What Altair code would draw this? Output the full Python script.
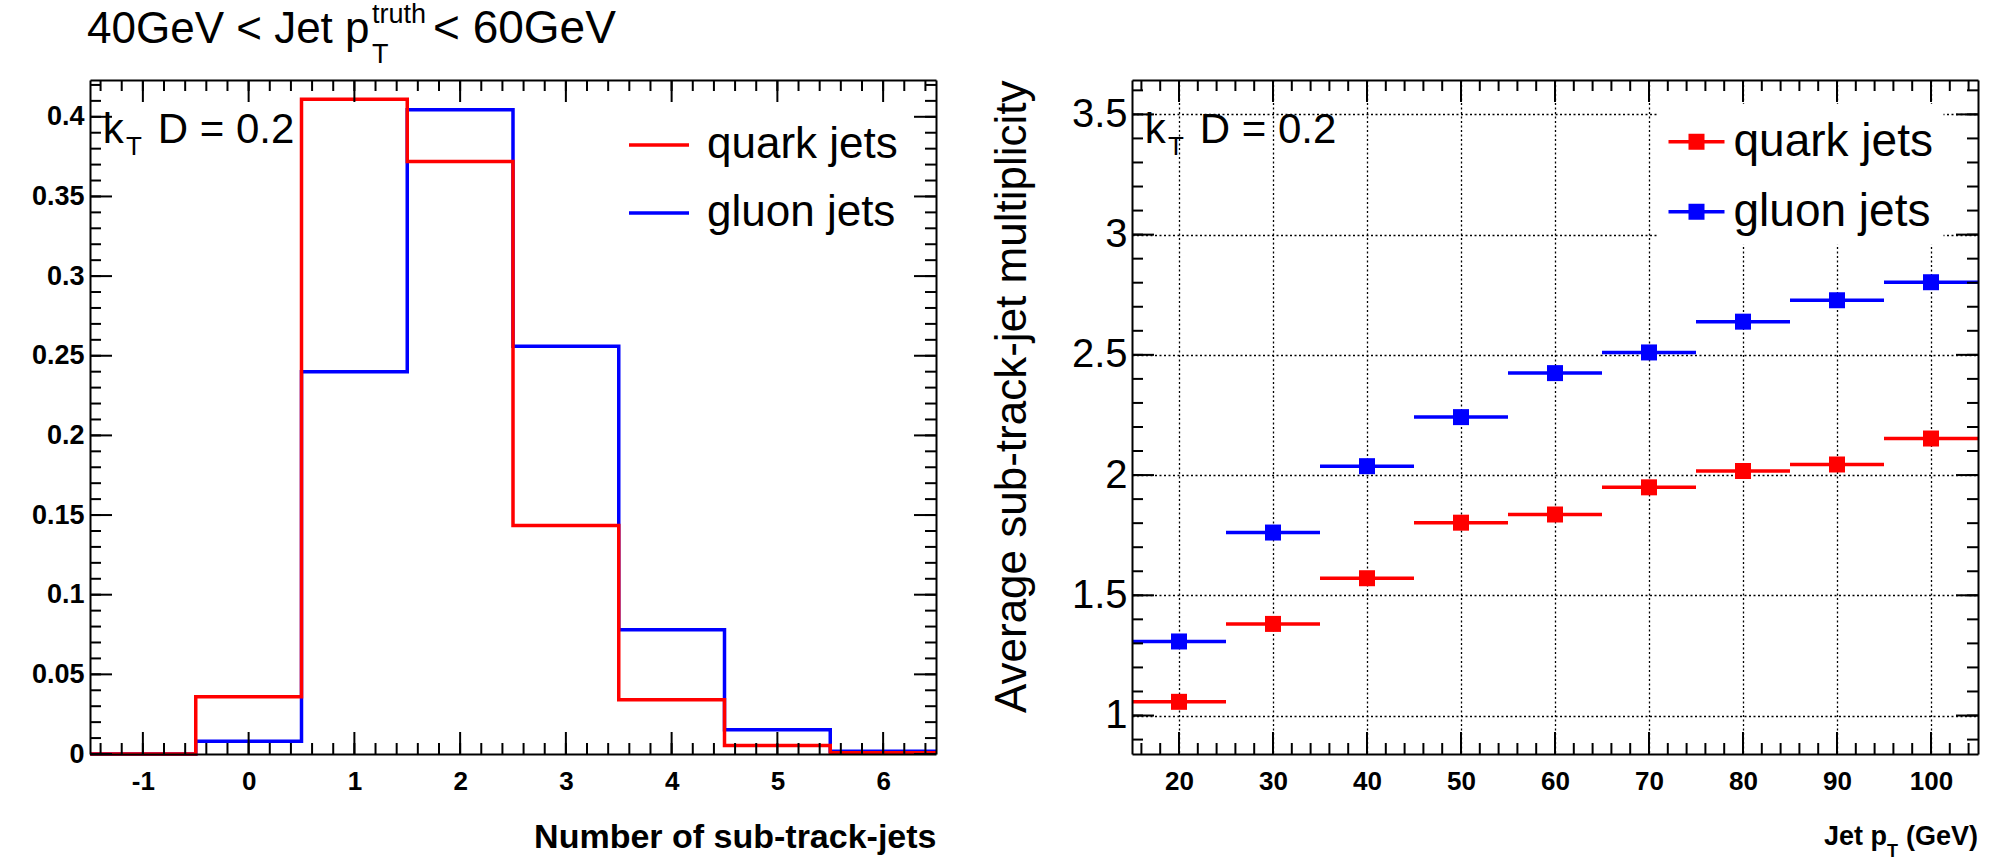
import altair as alt
import pandas as pd

# ----------------------------------------------------------------------
# Data
# ----------------------------------------------------------------------
# Left: normalised number of sub-track-jets (kT, D = 0.2), 40 < pT(truth) < 60 GeV
n_subjets = [-1, 0, 1, 2, 3, 4, 5, 6]
frac_quark = [0.0, 0.036, 0.411, 0.372, 0.1435, 0.034, 0.0054, 0.0008]
frac_gluon = [0.0, 0.008, 0.240, 0.4045, 0.256, 0.078, 0.0152, 0.0018]

# Right: average sub-track-jet multiplicity in 10 GeV bins of jet pT
pt_center = [20, 30, 40, 50, 60, 70, 80, 90, 100]
pt_half_width = [5, 5, 5, 5, 5, 5, 5, 5, 5]
mult_quark = [1.057, 1.381, 1.571, 1.802, 1.836, 1.949, 2.017, 2.044, 2.152]
mult_gluon = [1.308, 1.761, 2.037, 2.241, 2.424, 2.510, 2.638, 2.727, 2.802]

series_names = ["quark jets", "gluon jets"]
series_colors = ["#ff0000", "#0000ff"]

# Axis ranges and tick positions (major ticks are labelled)
left_x_domain = [-1.5, 6.5]
left_y_domain = [0, 0.4231]
right_x_domain = [15, 105]
right_y_domain = [0.84, 3.643]

left_x_major = [-1, 0, 1, 2, 3, 4, 5, 6]
left_x_minor = [round(-1.4 + 0.2 * i, 1) for i in range(40)]
left_y_major = [0, 0.05, 0.1, 0.15, 0.2, 0.25, 0.3, 0.35, 0.4]
left_y_minor = [round(0.01 * i, 2) for i in range(43)]
right_x_major = [20, 30, 40, 50, 60, 70, 80, 90, 100]
right_x_minor = list(range(16, 105, 2))
right_y_major = [1, 1.5, 2, 2.5, 3, 3.5]
right_y_minor = [round(0.9 + 0.1 * i, 1) for i in range(28)]

# ----------------------------------------------------------------------
# Tables
# ----------------------------------------------------------------------
def step_table(centers, values, name):
    edges = [c - 0.5 for c in centers] + [centers[-1] + 0.5]
    vals = list(values) + [values[-1]]
    return pd.DataFrame({"edge": edges, "frac": vals, "series": name})


def profile_table(values, name):
    return pd.DataFrame({
        "pt": pt_center,
        "lo": [c - h for c, h in zip(pt_center, pt_half_width)],
        "hi": [c + h for c, h in zip(pt_center, pt_half_width)],
        "mult": values,
        "series": name,
    })


hist_quark = step_table(n_subjets, frac_quark, "quark jets")
hist_gluon = step_table(n_subjets, frac_gluon, "gluon jets")
prof = pd.concat([profile_table(mult_quark, "quark jets"),
                  profile_table(mult_gluon, "gluon jets")], ignore_index=True)

# ----------------------------------------------------------------------
# Styling helpers
# ----------------------------------------------------------------------
FONT = "Liberation Sans"
W, H = 846, 674
MAJOR, MINOR = 22, 11


def label_axis(orient, values, size, weight, pad, **kw):
    """Labelled frame side; the inward ticks are drawn as rules."""
    opts = dict(
        orient=orient, values=values, labelExpr="'' + datum.value", labels=True,
        ticks=False, tickSize=0, domain=True, domainColor="black", domainWidth=2,
        labelFont=FONT, labelFontSize=size, labelFontWeight=weight,
        labelColor="black", labelPadding=pad, labelFlush=False,
        labelOverlap=False, grid=False, zindex=1, title=None,
    )
    opts.update(kw)
    return alt.Axis(**opts)


def edge_axis(orient, offset):
    """Bare frame line on the top / right side."""
    return alt.Axis(
        orient=orient, offset=offset, labels=False, ticks=False, domain=True,
        domainColor="black", domainWidth=2, grid=False, title=None, zindex=1,
    )


def grid_axis(values):
    return alt.Axis(
        values=values, grid=True, labels=False, ticks=False, domain=False,
        gridColor="black", gridDash=[2, 2.5], gridWidth=1.3, title=None, zindex=0,
    )


def tick_rules(values, scale, side, length):
    """Inward-pointing ticks along one side of the frame."""
    df = pd.DataFrame({"v": values})
    if side in ("bottom", "top"):
        y0 = H if side == "bottom" else 0
        y1 = H - length if side == "bottom" else length
        enc = dict(x=alt.X("v:Q", scale=scale, axis=None),
                   y=alt.value(y0), y2=alt.value(y1))
    else:
        x0 = 0 if side == "left" else W
        x1 = length if side == "left" else W - length
        enc = dict(y=alt.Y("v:Q", scale=scale, axis=None),
                   x=alt.value(x0), x2=alt.value(x1))
    return alt.Chart(df).mark_rule(color="black", strokeWidth=2).encode(**enc)


def frame(data, xf, yf, xs, ys, x_major, x_minor, y_major, y_minor):
    layers = [alt.Chart(data).mark_point(opacity=0).encode(
        x=alt.X(xf, scale=xs, axis=edge_axis("bottom", -H)),
        y=alt.Y(yf, scale=ys, axis=edge_axis("left", -W)),
    )]
    for side in ("bottom", "top"):
        layers.append(tick_rules(x_major, xs, side, MAJOR))
        layers.append(tick_rules(x_minor, xs, side, MINOR))
    for side in ("left", "right"):
        layers.append(tick_rules(y_major, ys, side, MAJOR))
        layers.append(tick_rules(y_minor, ys, side, MINOR))
    return layers


def text(t, x, y, size, weight="normal", align="left"):
    return alt.Chart(pd.DataFrame({"t": [t]})).mark_text(
        align=align, baseline="alphabetic", font=FONT, fontSize=size,
        fontWeight=weight, color="black",
    ).encode(x=alt.value(x), y=alt.value(y), text="t:N")


def kt_label():
    return [
        text("k", 12.7, 63.4, 42),
        text("T", 36, 74.7, 26),
        text("D = 0.2", 67.7, 63.4, 42),
    ]


# ----------------------------------------------------------------------
# Left panel: histogram of sub-track-jet counts
# ----------------------------------------------------------------------
xs_left = alt.Scale(domain=left_x_domain, nice=False, zero=False)
ys_left = alt.Scale(domain=left_y_domain, nice=False, zero=False)

left_legend = alt.Legend(
    title=None, orient="none", legendX=537, legendY=33, symbolType="stroke",
    symbolSize=3600, symbolStrokeWidth=3.5, labelFont=FONT, labelFontSize=44,
    labelColor="black", labelOffset=16, labelLimit=400, rowPadding=14, padding=0,
)
left_color = alt.Color(
    "series:N", scale=alt.Scale(domain=series_names, range=series_colors),
    legend=left_legend,
)

gluon_line = alt.Chart(hist_gluon).mark_line(
    interpolate="step-after", strokeWidth=3.5
).encode(
    x=alt.X("edge:Q", scale=xs_left, axis=label_axis(
        "bottom", left_x_major, 26, "bold", 14,
        title="Number of sub-track-jets", titleFont=FONT, titleFontSize=34,
        titleFontWeight="bold", titleColor="black", titleAlign="right",
        titleBaseline="alphabetic", titleX=W, titleY=93, titleAngle=0)),
    y=alt.Y("frac:Q", scale=ys_left, axis=label_axis("left", left_y_major, 27, "bold", 6)),
    color=left_color,
)

quark_line = alt.Chart(hist_quark).mark_line(
    interpolate="step-after", strokeWidth=3.5
).encode(
    x=alt.X("edge:Q", scale=xs_left, axis=None),
    y=alt.Y("frac:Q", scale=ys_left, axis=None),
    color=left_color,
)

left_title = [
    text("40GeV < Jet p", -3, -37.3, 44),
    text("truth", 282, -57.3, 27),
    text("T", 282, -17.3, 27),
    text("< 60GeV", 343, -37.3, 46),
]

left = alt.layer(
    gluon_line, quark_line,
    *frame(hist_quark, "edge:Q", "frac:Q", xs_left, ys_left,
           left_x_major, left_x_minor, left_y_major, left_y_minor),
    *kt_label(), *left_title,
).resolve_axis(x="independent", y="independent").properties(width=W, height=H)

# ----------------------------------------------------------------------
# Right panel: average multiplicity vs jet pT
# ----------------------------------------------------------------------
xs_right = alt.Scale(domain=right_x_domain, nice=False, zero=False)
ys_right = alt.Scale(domain=right_y_domain, nice=False, zero=False)

# legend glyph: horizontal error bar with a filled square marker
marker_symbol = "M-1,-0.0625H1V0.0625H-1ZM-0.286,-0.286H0.286V0.286H-0.286Z"
right_legend = alt.Legend(
    title=None, orient="none", legendX=526.5, legendY=23.7, symbolType=marker_symbol,
    symbolSize=3136, symbolStrokeWidth=0, labelFont=FONT, labelFontSize=46,
    labelColor="black", labelOffset=9, labelLimit=400, rowPadding=19, padding=10,
    fillColor="white",
)
right_color = alt.Color(
    "series:N", scale=alt.Scale(domain=series_names, range=series_colors),
    legend=right_legend,
)

right_grid = alt.Chart(prof).mark_point(opacity=0).encode(
    x=alt.X("pt:Q", scale=xs_right, axis=grid_axis(right_x_major)),
    y=alt.Y("mult:Q", scale=ys_right, axis=grid_axis(right_y_major)),
)

err_bars = alt.Chart(prof).mark_rule(strokeWidth=3.5).encode(
    x=alt.X("lo:Q", scale=xs_right, axis=None),
    x2="hi:Q",
    y=alt.Y("mult:Q", scale=ys_right, axis=None),
    color=right_color,
)

markers = alt.Chart(prof).mark_square(size=256, opacity=1).encode(
    x=alt.X("pt:Q", scale=xs_right, axis=label_axis("bottom", right_x_major, 26, "bold", 14)),
    y=alt.Y("mult:Q", scale=ys_right, axis=label_axis(
        "left", right_y_major, 40, "normal", 5,
        title="Average sub-track-jet multiplicity", titleFont=FONT,
        titleFontSize=44, titleFontWeight="normal", titleColor="black",
        titleAngle=270, titleAlign="right", titleBaseline="alphabetic",
        titleX=-107, titleY=0)),
    color=right_color,
)

right_xtitle = [
    text("(GeV)", W, 765, 27, "bold", "right"),
    text("T", 755, 777, 18, "bold"),
    text("Jet p", 755, 765, 27, "bold", "right"),
]

right = alt.layer(
    right_grid, err_bars, markers,
    *frame(prof, "pt:Q", "mult:Q", xs_right, ys_right,
           right_x_major, right_x_minor, right_y_major, right_y_minor),
    *kt_label(), *right_xtitle,
).resolve_axis(x="independent", y="independent").properties(width=W, height=H)

# ----------------------------------------------------------------------
chart = alt.hconcat(left, right, spacing=196, bounds="flush").resolve_scale(
    color="independent"
).properties(
    padding={"left": 31, "top": 0, "right": 0, "bottom": 0},
    background="white",
).configure_view(stroke=None).configure_axis(grid=False)

chart.save("out.html", embed_options={"renderer": "svg", "actions": False})
